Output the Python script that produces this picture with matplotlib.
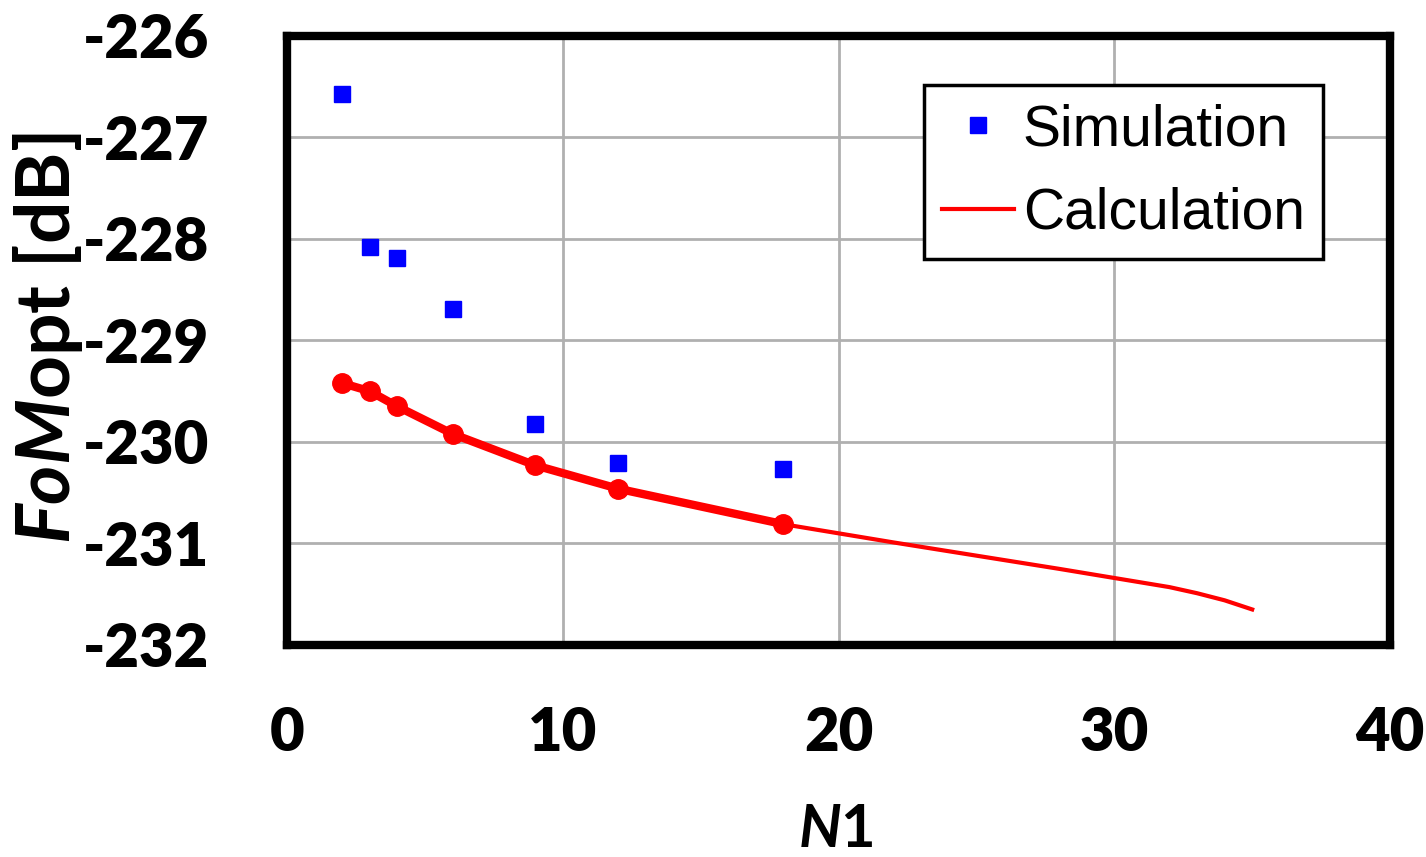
import matplotlib
matplotlib.use("Agg")
import matplotlib.pyplot as plt
from matplotlib.lines import Line2D

# ---- data ----
sim_n = [2, 3, 4, 6, 9, 12, 18]
sim_fom = [-226.57, -228.08, -228.19, -228.69, -229.82, -230.21, -230.27]

calc_pts_n = [2, 3, 4, 6, 9, 12, 18]
calc_pts_fom = [-229.42, -229.50, -229.65, -229.92, -230.23, -230.46, -230.81]

calc_n = [2, 3, 4, 6, 9, 12, 18, 20, 22, 25, 28, 30, 32, 33, 34, 35]
calc_fom = [-229.42, -229.50, -229.65, -229.92, -230.23, -230.46, -230.81,
            -230.90, -230.99, -231.12, -231.25, -231.34, -231.43, -231.49,
            -231.56, -231.65]

xticks = [0, 10, 20, 30, 40]
yticks = [-232, -231, -230, -229, -228, -227, -226]

plt.rcParams['axes.unicode_minus'] = False
plt.rcParams['mathtext.fontset'] = 'custom'
plt.rcParams['mathtext.it'] = 'Lato:bold:italic'
plt.rcParams['mathtext.rm'] = 'Lato:bold'

fig = plt.figure(figsize=(14.26, 8.57), dpi=100)
ax = fig.add_axes([0.2013, 0.2474, 0.7735, 0.7106])

ax.set_xlim(0, 40)
ax.set_ylim(-232, -226)
ax.set_xticks(xticks)
ax.set_yticks(yticks)
ax.grid(True, color='#b0b0b0', linewidth=2.0)
ax.set_axisbelow(True)

ax.plot(calc_n, calc_fom, color='#ff0000', linewidth=3, zorder=3)
ax.plot(calc_pts_n, calc_pts_fom, color='#ff0000', linewidth=6, marker='o',
        markersize=14, zorder=4)
ax.plot(sim_n, sim_fom, linestyle='none', marker='s', color='#0000ff',
        markersize=12, zorder=5)

for s in ax.spines.values():
    s.set_linewidth(6)
    s.set_color('black')
    s.set_capstyle('projecting')

ax.tick_params(axis='both', length=0)
ax.tick_params(axis='x', pad=44)
ax.tick_params(axis='y', pad=56)
for lab in ax.get_xticklabels() + ax.get_yticklabels():
    lab.set_fontfamily('Lato')
    lab.set_fontweight('heavy')
    lab.set_fontsize(43)

fig.text(0.034, 0.605, r'$\mathit{FoM}$opt [dB]', rotation=90, ha='center',
         va='center', fontsize=54, fontfamily='Lato', fontweight='bold')
fig.text(0.586, 0.031, r'$\mathit{N}$1', ha='center', va='center',
         fontsize=43, fontfamily='Lato', fontweight='bold')

handles = [Line2D([], [], linestyle='none', marker='s', color='#0000ff', markersize=12),
           Line2D([], [], color='#ff0000', linewidth=3)]
leg = ax.legend(handles, ['Simulation', 'Calculation'], loc='upper right',
                bbox_to_anchor=(1323 / 1426, 1 - 85 / 857), bbox_transform=fig.transFigure,
                prop={'family': 'Liberation Sans', 'size': 41},
                fancybox=False, framealpha=1, edgecolor='black',
                handlelength=1.26, handletextpad=0.15, borderpad=0.32,
                labelspacing=0.52, borderaxespad=0)
leg.get_frame().set_linewidth(2.5)

fig.savefig('out.png', dpi=100)
